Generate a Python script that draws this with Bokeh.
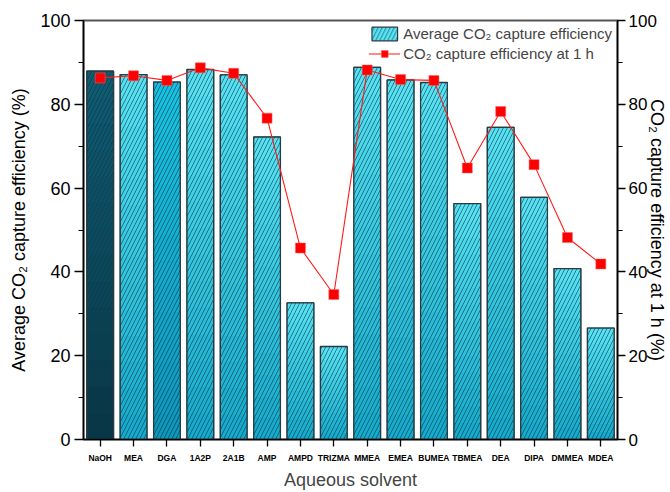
from bokeh.plotting import figure
from bokeh.models import (Range1d, LinearAxis, SingleIntervalTicker, ColumnDataSource,
                          Legend, LegendItem, FactorRange)
from bokeh.embed import file_html
from bokeh.resources import INLINE

solvents = ["NaOH", "MEA", "DGA", "1A2P", "2A1B", "AMP", "AMPD", "TRIZMA",
            "MMEA", "EMEA", "BUMEA", "TBMEA", "DEA", "DIPA", "DMMEA", "MDEA"]
avg_eff = [87.9, 87.1, 85.3, 88.3, 87.0, 72.2, 32.6, 22.2,
           88.8, 85.8, 85.2, 56.3, 74.5, 57.8, 40.8, 26.6]
eff_1h = [86.3, 86.8, 85.7, 88.7, 87.4, 76.7, 45.7, 34.6,
          88.2, 85.9, 85.7, 64.8, 78.3, 65.6, 48.2, 41.9]
# top / bottom colours of each bar's gradient
top_colors = ["#0e5d76", "#56e4f6", "#16c4e4"] + ["#56e4f6"] * 13
bot_colors = ["#053646", "#12aacc", "#0a96bc"] + ["#12aacc"] * 13

FONT = "Liberation Sans"


def hx(c):
    return tuple(int(c[i:i + 2], 16) for i in (1, 3, 5))


def mix(a, b, t):
    a, b = hx(a), hx(b)
    return "#%02x%02x%02x" % tuple(int(round(a[k] + (b[k] - a[k]) * t)) for k in range(3))


p = figure(width=670, height=492, x_range=FactorRange(*solvents, range_padding=0),
           y_range=Range1d(0, 100), output_backend="svg", toolbar_location=None,
           min_border_left=83, min_border_right=53, min_border_top=20, min_border_bottom=52)
p.extra_y_ranges = {"right": Range1d(0, 100)}

# base layer (also used for the legend swatch)
src = ColumnDataSource(dict(x=solvents, top=avg_eff, c=top_colors))
base = p.vbar(x="x", top="top", width=0.8, source=src, fill_color="c",
              line_color="#2a3a40", line_width=1.2,
              hatch_pattern="/", hatch_color="#17333d", hatch_alpha=0.75,
              hatch_scale=8, hatch_weight=0.8)

# gradient bands
n = 14
bx, bb, bt, bc = [], [], [], []
for s, v, tc, bcol in zip(solvents, avg_eff, top_colors, bot_colors):
    for i in range(n):
        bx.append(s)
        bb.append(v * i / n)
        bt.append(v * (i + 1) / n)
        bc.append(mix(bcol, tc, (i + 0.5) / n))
p.vbar(x=bx, bottom=bb, top=bt, width=0.8, fill_color=bc, line_color=bc, line_width=0.5)

# hatched outline overlay
p.vbar(x="x", top="top", width=0.8, source=src, fill_alpha=0,
       line_color="#2a3a40", line_width=1.3,
       hatch_pattern="/", hatch_color="#17333d", hatch_alpha=0.75,
       hatch_scale=8, hatch_weight=0.8)

src2 = ColumnDataSource(dict(x=solvents, y=eff_1h))
ln = p.line(x="x", y="y", source=src2, line_color="#ff1a1a", line_width=1.1, y_range_name="right")
sq = p.scatter(x="x", y="y", source=src2, marker="square", size=10, fill_color="#ff0000",
               line_color="#ff6060", line_width=0.5, y_range_name="right")

# axes styling
p.xgrid.visible = False
p.ygrid.visible = False
p.outline_line_color = "#555555"
p.outline_line_width = 2

yl = p.yaxis[0]
yl.ticker = SingleIntervalTicker(interval=20, num_minor_ticks=2)
yl.axis_label = "Average CO₂ capture efficiency (%)"

yr = LinearAxis(y_range_name="right", axis_label="CO₂ capture efficiency at 1 h (%)",
                ticker=SingleIntervalTicker(interval=20, num_minor_ticks=2))
p.add_layout(yr, "right")

for ax in [yl, yr]:
    ax.axis_line_color = "black"
    ax.axis_line_width = 1.5
    ax.major_tick_line_color = "black"
    ax.minor_tick_line_color = "black"
    ax.major_tick_line_width = 1.3
    ax.minor_tick_line_width = 1.0
    ax.major_tick_in = 0
    ax.major_tick_out = 9
    ax.minor_tick_in = 0
    ax.minor_tick_out = 5
    ax.major_label_text_font = FONT
    ax.major_label_text_font_size = "18px"
    ax.major_label_text_color = "black"
    ax.axis_label_text_font = FONT
    ax.axis_label_text_font_size = "18px"
    ax.axis_label_text_font_style = "normal"
    ax.axis_label_text_color = "black"
    ax.major_label_standoff = 4

yl.axis_label_standoff = 8
yr.major_tick_out = 8
yr.major_label_standoff = 3
yr.major_label_text_font_size = "17px"
yr.axis_label_standoff = -13

xa = p.xaxis[0]
xa.axis_label = "Aqueous solvent"
xa.axis_line_color = "black"
xa.axis_line_width = 1.5
xa.major_tick_line_color = "black"
xa.major_tick_line_width = 1.3
xa.major_tick_in = 0
xa.major_tick_out = 7
xa.minor_tick_line_color = None
xa.major_label_text_font = FONT
xa.major_label_text_font_size = "8.5px"
xa.major_label_text_font_style = "bold"
xa.major_label_text_color = "black"
xa.major_label_standoff = 6
xa.axis_label_text_font = FONT
xa.axis_label_text_font_size = "18px"
xa.axis_label_text_font_style = "normal"
xa.axis_label_standoff = 4

legend = Legend(items=[LegendItem(label="Average CO₂ capture efficiency", renderers=[base], index=1),
                       LegendItem(label="CO₂ capture efficiency at 1 h", renderers=[ln, sq])],
                location="top_right", border_line_color=None, background_fill_alpha=0,
                label_text_font=FONT, label_text_font_size="15px",
                glyph_width=32, glyph_height=17, spacing=3, padding=2, margin=5,
                label_standoff=3)
p.add_layout(legend)

open("out.html", "w").write(file_html(p, INLINE))
